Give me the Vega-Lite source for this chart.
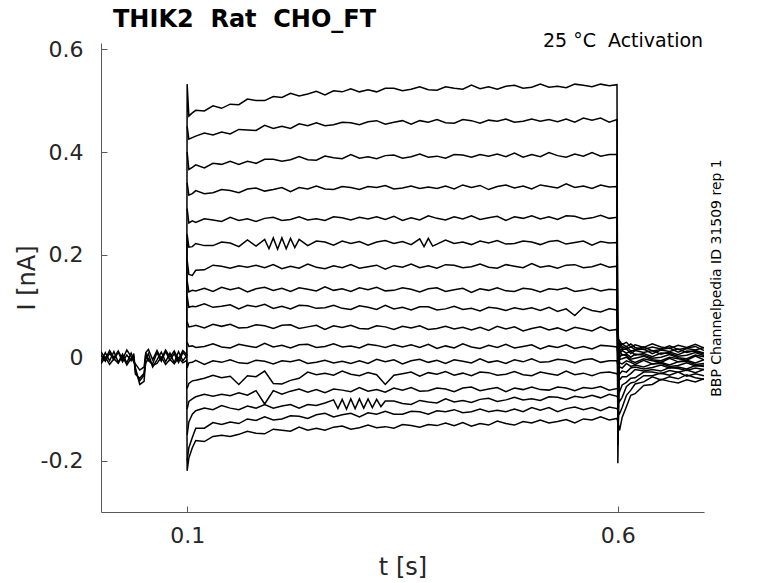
{
  "$schema": "https://vega.github.io/schema/vega-lite/v6.json",
  "width": 603,
  "height": 469,
  "autosize": {"type": "none"},
  "padding": {"left": 101, "top": 43, "right": 74, "bottom": 71},
  "background": "white",
  "config": {"view": {"stroke": null}, "font": "DejaVu Sans"},
  "title": {
    "text": "THIK2\u00a0\u00a0Rat\u00a0\u00a0CHO_FT",
    "anchor": "start",
    "frame": "group",
    "dx": 12,
    "offset": 0,
    "fontSize": 24,
    "fontWeight": "bold",
    "font": "DejaVu Sans",
    "color": "black"
  },
  "data": {"values": [
    {"k":1,"t":0,"v":0.006},{"k":1,"t":0.005,"v":-0.007},{"k":1,"t":0.01,"v":0.009},{"k":1,"t":0.015,"v":-0.004},{"k":1,"t":0.02,"v":0.011},{"k":1,"t":0.025,"v":-0.008},{"k":1,"t":0.03,"v":0.005},{"k":1,"t":0.035,"v":-0.006},{"k":1,"t":0.038,"v":0.008},{"k":1,"t":0.04,"v":-0.028},{"k":1,"t":0.045,"v":-0.045},{"k":1,"t":0.05,"v":-0.034},{"k":1,"t":0.052,"v":0.009},{"k":1,"t":0.055,"v":-0.006},{"k":1,"t":0.06,"v":-0.012},{"k":1,"t":0.065,"v":0.01},{"k":1,"t":0.07,"v":-0.007},{"k":1,"t":0.075,"v":0.012},{"k":1,"t":0.08,"v":-0.005},{"k":1,"t":0.085,"v":0.008},{"k":1,"t":0.09,"v":-0.009},{"k":1,"t":0.095,"v":0.01},{"k":1,"t":0.0995,"v":0.002},
    {"k":1,"t":0.1,"v":0.532},{"k":1,"t":0.102,"v":0.47},{"k":1,"t":0.106,"v":0.476},
    {"k":1,"t":0.11,"v":0.481},{"k":1,"t":0.12,"v":0.48},{"k":1,"t":0.13,"v":0.49},{"k":1,"t":0.14,"v":0.485},{"k":1,"t":0.15,"v":0.493},{"k":1,"t":0.16,"v":0.492},{"k":1,"t":0.17,"v":0.503},{"k":1,"t":0.18,"v":0.5},{"k":1,"t":0.19,"v":0.5},{"k":1,"t":0.2,"v":0.508},
    {"k":1,"t":0.21,"v":0.506},{"k":1,"t":0.22,"v":0.514},{"k":1,"t":0.23,"v":0.509},{"k":1,"t":0.24,"v":0.513},{"k":1,"t":0.25,"v":0.518},{"k":1,"t":0.26,"v":0.511},{"k":1,"t":0.27,"v":0.519},{"k":1,"t":0.28,"v":0.517},{"k":1,"t":0.29,"v":0.523},{"k":1,"t":0.3,"v":0.517},
    {"k":1,"t":0.31,"v":0.521},{"k":1,"t":0.32,"v":0.517},{"k":1,"t":0.33,"v":0.524},{"k":1,"t":0.34,"v":0.524},{"k":1,"t":0.35,"v":0.519},{"k":1,"t":0.36,"v":0.522},{"k":1,"t":0.37,"v":0.527},{"k":1,"t":0.38,"v":0.521},{"k":1,"t":0.39,"v":0.52},{"k":1,"t":0.4,"v":0.527},
    {"k":1,"t":0.41,"v":0.524},{"k":1,"t":0.42,"v":0.522},{"k":1,"t":0.43,"v":0.53},{"k":1,"t":0.44,"v":0.523},{"k":1,"t":0.45,"v":0.527},{"k":1,"t":0.46,"v":0.522},{"k":1,"t":0.47,"v":0.528},{"k":1,"t":0.48,"v":0.53},{"k":1,"t":0.49,"v":0.524},{"k":1,"t":0.5,"v":0.526},
    {"k":1,"t":0.51,"v":0.532},{"k":1,"t":0.52,"v":0.526},{"k":1,"t":0.53,"v":0.528},{"k":1,"t":0.54,"v":0.525},{"k":1,"t":0.55,"v":0.532},{"k":1,"t":0.56,"v":0.53},{"k":1,"t":0.57,"v":0.527},{"k":1,"t":0.58,"v":0.532},{"k":1,"t":0.59,"v":0.529},{"k":1,"t":0.599,"v":0.531},
    {"k":1,"t":0.6,"v":-0.205},{"k":1,"t":0.602,"v":0.033},{"k":1,"t":0.605,"v":0.026},{"k":1,"t":0.61,"v":0.03},{"k":1,"t":0.615,"v":0.021},{"k":1,"t":0.62,"v":0.025},{"k":1,"t":0.63,"v":0.02},{"k":1,"t":0.64,"v":0.027},{"k":1,"t":0.65,"v":0.021},{"k":1,"t":0.66,"v":0.018},{"k":1,"t":0.67,"v":0.024},{"k":1,"t":0.68,"v":0.02},{"k":1,"t":0.69,"v":0.026},{"k":1,"t":0.7,"v":0.019},

    {"k":2,"t":0.1,"v":0.45},{"k":2,"t":0.102,"v":0.425},{"k":2,"t":0.106,"v":0.428},
    {"k":2,"t":0.11,"v":0.431},{"k":2,"t":0.12,"v":0.437},{"k":2,"t":0.13,"v":0.433},{"k":2,"t":0.14,"v":0.439},{"k":2,"t":0.15,"v":0.435},{"k":2,"t":0.16,"v":0.444},{"k":2,"t":0.17,"v":0.443},{"k":2,"t":0.18,"v":0.442},{"k":2,"t":0.19,"v":0.452},{"k":2,"t":0.2,"v":0.446},
    {"k":2,"t":0.21,"v":0.45},{"k":2,"t":0.22,"v":0.446},{"k":2,"t":0.23,"v":0.455},{"k":2,"t":0.24,"v":0.451},{"k":2,"t":0.25,"v":0.457},{"k":2,"t":0.26,"v":0.451},{"k":2,"t":0.27,"v":0.453},{"k":2,"t":0.28,"v":0.458},{"k":2,"t":0.29,"v":0.457},{"k":2,"t":0.3,"v":0.453},
    {"k":2,"t":0.31,"v":0.459},{"k":2,"t":0.32,"v":0.461},{"k":2,"t":0.33,"v":0.454},{"k":2,"t":0.34,"v":0.458},{"k":2,"t":0.35,"v":0.461},{"k":2,"t":0.36,"v":0.454},{"k":2,"t":0.37,"v":0.461},{"k":2,"t":0.38,"v":0.458},{"k":2,"t":0.39,"v":0.463},{"k":2,"t":0.4,"v":0.457},
    {"k":2,"t":0.41,"v":0.456},{"k":2,"t":0.42,"v":0.463},{"k":2,"t":0.43,"v":0.461},{"k":2,"t":0.44,"v":0.456},{"k":2,"t":0.45,"v":0.462},{"k":2,"t":0.46,"v":0.46},{"k":2,"t":0.47,"v":0.464},{"k":2,"t":0.48,"v":0.458},{"k":2,"t":0.49,"v":0.46},{"k":2,"t":0.5,"v":0.464},
    {"k":2,"t":0.51,"v":0.46},{"k":2,"t":0.52,"v":0.463},{"k":2,"t":0.53,"v":0.459},{"k":2,"t":0.54,"v":0.464},{"k":2,"t":0.55,"v":0.458},{"k":2,"t":0.56,"v":0.466},{"k":2,"t":0.57,"v":0.462},{"k":2,"t":0.58,"v":0.466},{"k":2,"t":0.59,"v":0.458},{"k":2,"t":0.599,"v":0.463},
    {"k":2,"t":0.6,"v":-0.17},{"k":2,"t":0.602,"v":0.024},{"k":2,"t":0.605,"v":0.027},{"k":2,"t":0.61,"v":0.021},{"k":2,"t":0.615,"v":0.027},{"k":2,"t":0.62,"v":0.02},{"k":2,"t":0.63,"v":0.016},{"k":2,"t":0.64,"v":0.021},{"k":2,"t":0.65,"v":0.017},{"k":2,"t":0.66,"v":0.023},{"k":2,"t":0.67,"v":0.016},{"k":2,"t":0.68,"v":0.019},{"k":2,"t":0.69,"v":0.022},{"k":2,"t":0.7,"v":0.014},

    {"k":3,"t":0.1,"v":0.4},{"k":3,"t":0.102,"v":0.366},{"k":3,"t":0.106,"v":0.37},
    {"k":3,"t":0.11,"v":0.375},{"k":3,"t":0.12,"v":0.369},{"k":3,"t":0.13,"v":0.378},{"k":3,"t":0.14,"v":0.376},{"k":3,"t":0.15,"v":0.382},{"k":3,"t":0.16,"v":0.376},{"k":3,"t":0.17,"v":0.382},{"k":3,"t":0.18,"v":0.378},{"k":3,"t":0.19,"v":0.386},{"k":3,"t":0.2,"v":0.386},
    {"k":3,"t":0.21,"v":0.382},{"k":3,"t":0.22,"v":0.385},{"k":3,"t":0.23,"v":0.391},{"k":3,"t":0.24,"v":0.385},{"k":3,"t":0.25,"v":0.384},{"k":3,"t":0.26,"v":0.392},{"k":3,"t":0.27,"v":0.389},{"k":3,"t":0.28,"v":0.387},{"k":3,"t":0.29,"v":0.395},{"k":3,"t":0.3,"v":0.388},
    {"k":3,"t":0.31,"v":0.391},{"k":3,"t":0.32,"v":0.387},{"k":3,"t":0.33,"v":0.393},{"k":3,"t":0.34,"v":0.394},{"k":3,"t":0.35,"v":0.388},{"k":3,"t":0.36,"v":0.391},{"k":3,"t":0.37,"v":0.396},{"k":3,"t":0.38,"v":0.39},{"k":3,"t":0.39,"v":0.392},{"k":3,"t":0.4,"v":0.388},
    {"k":3,"t":0.41,"v":0.395},{"k":3,"t":0.42,"v":0.394},{"k":3,"t":0.43,"v":0.39},{"k":3,"t":0.44,"v":0.395},{"k":3,"t":0.45,"v":0.392},{"k":3,"t":0.46,"v":0.396},{"k":3,"t":0.47,"v":0.391},{"k":3,"t":0.48,"v":0.398},{"k":3,"t":0.49,"v":0.39},{"k":3,"t":0.5,"v":0.395},
    {"k":3,"t":0.51,"v":0.391},{"k":3,"t":0.52,"v":0.399},{"k":3,"t":0.53,"v":0.393},{"k":3,"t":0.54,"v":0.39},{"k":3,"t":0.55,"v":0.396},{"k":3,"t":0.56,"v":0.392},{"k":3,"t":0.57,"v":0.399},{"k":3,"t":0.58,"v":0.392},{"k":3,"t":0.59,"v":0.395},{"k":3,"t":0.599,"v":0.395},
    {"k":3,"t":0.6,"v":-0.14},{"k":3,"t":0.602,"v":0.03},{"k":3,"t":0.605,"v":0.022},{"k":3,"t":0.61,"v":0.017},{"k":3,"t":0.615,"v":0.021},{"k":3,"t":0.62,"v":0.016},{"k":3,"t":0.63,"v":0.021},{"k":3,"t":0.64,"v":0.013},{"k":3,"t":0.65,"v":0.016},{"k":3,"t":0.66,"v":0.019},{"k":3,"t":0.67,"v":0.011},{"k":3,"t":0.68,"v":0.018},{"k":3,"t":0.69,"v":0.015},{"k":3,"t":0.7,"v":0.02},

    {"k":4,"t":0.1,"v":0.34},{"k":4,"t":0.102,"v":0.316},{"k":4,"t":0.106,"v":0.319},
    {"k":4,"t":0.11,"v":0.325},{"k":4,"t":0.12,"v":0.319},{"k":4,"t":0.13,"v":0.321},{"k":4,"t":0.14,"v":0.327},{"k":4,"t":0.15,"v":0.325},{"k":4,"t":0.16,"v":0.321},{"k":4,"t":0.17,"v":0.328},{"k":4,"t":0.18,"v":0.33},{"k":4,"t":0.19,"v":0.324},{"k":4,"t":0.2,"v":0.327},
    {"k":4,"t":0.21,"v":0.331},{"k":4,"t":0.22,"v":0.323},{"k":4,"t":0.23,"v":0.331},{"k":4,"t":0.24,"v":0.328},{"k":4,"t":0.25,"v":0.334},{"k":4,"t":0.26,"v":0.328},{"k":4,"t":0.27,"v":0.327},{"k":4,"t":0.28,"v":0.333},{"k":4,"t":0.29,"v":0.331},{"k":4,"t":0.3,"v":0.327},
    {"k":4,"t":0.31,"v":0.333},{"k":4,"t":0.32,"v":0.331},{"k":4,"t":0.33,"v":0.335},{"k":4,"t":0.34,"v":0.328},{"k":4,"t":0.35,"v":0.33},{"k":4,"t":0.36,"v":0.334},{"k":4,"t":0.37,"v":0.329},{"k":4,"t":0.38,"v":0.332},{"k":4,"t":0.39,"v":0.329},{"k":4,"t":0.4,"v":0.334},
    {"k":4,"t":0.41,"v":0.328},{"k":4,"t":0.42,"v":0.336},{"k":4,"t":0.43,"v":0.331},{"k":4,"t":0.44,"v":0.335},{"k":4,"t":0.45,"v":0.327},{"k":4,"t":0.46,"v":0.333},{"k":4,"t":0.47,"v":0.336},{"k":4,"t":0.48,"v":0.33},{"k":4,"t":0.49,"v":0.334},{"k":4,"t":0.5,"v":0.328},
    {"k":4,"t":0.51,"v":0.336},{"k":4,"t":0.52,"v":0.333},{"k":4,"t":0.53,"v":0.33},{"k":4,"t":0.54,"v":0.338},{"k":4,"t":0.55,"v":0.331},{"k":4,"t":0.56,"v":0.334},{"k":4,"t":0.57,"v":0.329},{"k":4,"t":0.58,"v":0.336},{"k":4,"t":0.59,"v":0.332},{"k":4,"t":0.599,"v":0.333},
    {"k":4,"t":0.6,"v":-0.11},{"k":4,"t":0.602,"v":0.024},{"k":4,"t":0.605,"v":0.018},{"k":4,"t":0.61,"v":0.022},{"k":4,"t":0.615,"v":0.013},{"k":4,"t":0.62,"v":0.015},{"k":4,"t":0.63,"v":0.017},{"k":4,"t":0.64,"v":0.008},{"k":4,"t":0.65,"v":0.015},{"k":4,"t":0.66,"v":0.012},{"k":4,"t":0.67,"v":0.017},{"k":4,"t":0.68,"v":0.01},{"k":4,"t":0.69,"v":0.014},{"k":4,"t":0.7,"v":0.009},

    {"k":5,"t":0.1,"v":0.29},{"k":5,"t":0.102,"v":0.262},{"k":5,"t":0.106,"v":0.266},
    {"k":5,"t":0.11,"v":0.263},{"k":5,"t":0.12,"v":0.27},{"k":5,"t":0.13,"v":0.268},{"k":5,"t":0.14,"v":0.265},{"k":5,"t":0.15,"v":0.273},{"k":5,"t":0.16,"v":0.267},{"k":5,"t":0.17,"v":0.27},{"k":5,"t":0.18,"v":0.265},{"k":5,"t":0.19,"v":0.271},{"k":5,"t":0.2,"v":0.273},
    {"k":5,"t":0.21,"v":0.267},{"k":5,"t":0.22,"v":0.269},{"k":5,"t":0.23,"v":0.274},{"k":5,"t":0.24,"v":0.268},{"k":5,"t":0.25,"v":0.27},{"k":5,"t":0.26,"v":0.267},{"k":5,"t":0.27,"v":0.274},{"k":5,"t":0.28,"v":0.272},{"k":5,"t":0.29,"v":0.268},{"k":5,"t":0.3,"v":0.273},
    {"k":5,"t":0.31,"v":0.27},{"k":5,"t":0.32,"v":0.274},{"k":5,"t":0.33,"v":0.269},{"k":5,"t":0.34,"v":0.275},{"k":5,"t":0.35,"v":0.267},{"k":5,"t":0.36,"v":0.272},{"k":5,"t":0.37,"v":0.268},{"k":5,"t":0.38,"v":0.276},{"k":5,"t":0.39,"v":0.271},{"k":5,"t":0.4,"v":0.268},
    {"k":5,"t":0.41,"v":0.274},{"k":5,"t":0.42,"v":0.27},{"k":5,"t":0.43,"v":0.276},{"k":5,"t":0.44,"v":0.269},{"k":5,"t":0.45,"v":0.272},{"k":5,"t":0.46,"v":0.275},{"k":5,"t":0.47,"v":0.267},{"k":5,"t":0.48,"v":0.274},{"k":5,"t":0.49,"v":0.271},{"k":5,"t":0.5,"v":0.276},
    {"k":5,"t":0.51,"v":0.27},{"k":5,"t":0.52,"v":0.274},{"k":5,"t":0.53,"v":0.269},{"k":5,"t":0.54,"v":0.276},{"k":5,"t":0.55,"v":0.275},{"k":5,"t":0.56,"v":0.27},{"k":5,"t":0.57,"v":0.272},{"k":5,"t":0.58,"v":0.277},{"k":5,"t":0.59,"v":0.271},{"k":5,"t":0.599,"v":0.273},
    {"k":5,"t":0.6,"v":-0.08},{"k":5,"t":0.602,"v":0.015},{"k":5,"t":0.605,"v":0.016},{"k":5,"t":0.61,"v":0.017},{"k":5,"t":0.615,"v":0.008},{"k":5,"t":0.62,"v":0.014},{"k":5,"t":0.63,"v":0.01},{"k":5,"t":0.64,"v":0.014},{"k":5,"t":0.65,"v":0.007},{"k":5,"t":0.66,"v":0.011},{"k":5,"t":0.67,"v":0.006},{"k":5,"t":0.68,"v":0.013},{"k":5,"t":0.69,"v":0.012},{"k":5,"t":0.7,"v":0.007},

    {"k":6,"t":0,"v":-0.008},{"k":6,"t":0.005,"v":0.01},{"k":6,"t":0.01,"v":-0.006},{"k":6,"t":0.015,"v":0.012},{"k":6,"t":0.02,"v":-0.009},{"k":6,"t":0.025,"v":0.007},{"k":6,"t":0.03,"v":-0.01},{"k":6,"t":0.035,"v":0.009},{"k":6,"t":0.038,"v":-0.004},{"k":6,"t":0.04,"v":-0.02},{"k":6,"t":0.045,"v":-0.052},{"k":6,"t":0.05,"v":-0.046},{"k":6,"t":0.052,"v":-0.003},{"k":6,"t":0.055,"v":0.008},{"k":6,"t":0.06,"v":-0.018},{"k":6,"t":0.065,"v":-0.004},{"k":6,"t":0.07,"v":0.011},{"k":6,"t":0.075,"v":-0.008},{"k":6,"t":0.08,"v":0.009},{"k":6,"t":0.085,"v":-0.01},{"k":6,"t":0.09,"v":0.012},{"k":6,"t":0.095,"v":-0.006},{"k":6,"t":0.0995,"v":0.004},
    {"k":6,"t":0.1,"v":0.24},{"k":6,"t":0.102,"v":0.215},{"k":6,"t":0.106,"v":0.216},
    {"k":6,"t":0.11,"v":0.222},{"k":6,"t":0.12,"v":0.218},{"k":6,"t":0.13,"v":0.218},{"k":6,"t":0.14,"v":0.225},{"k":6,"t":0.15,"v":0.223},{"k":6,"t":0.16,"v":0.216},{"k":6,"t":0.17,"v":0.229},{"k":6,"t":0.18,"v":0.217},{"k":6,"t":0.19,"v":0.23},{"k":6,"t":0.195,"v":0.212},{"k":6,"t":0.2,"v":0.233},
    {"k":6,"t":0.205,"v":0.211},{"k":6,"t":0.21,"v":0.233},{"k":6,"t":0.215,"v":0.212},{"k":6,"t":0.22,"v":0.232},{"k":6,"t":0.225,"v":0.214},{"k":6,"t":0.23,"v":0.23},{"k":6,"t":0.24,"v":0.218},{"k":6,"t":0.25,"v":0.227},{"k":6,"t":0.26,"v":0.225},{"k":6,"t":0.27,"v":0.219},{"k":6,"t":0.28,"v":0.227},{"k":6,"t":0.29,"v":0.222},{"k":6,"t":0.3,"v":0.226},
    {"k":6,"t":0.31,"v":0.219},{"k":6,"t":0.32,"v":0.225},{"k":6,"t":0.33,"v":0.228},{"k":6,"t":0.34,"v":0.222},{"k":6,"t":0.35,"v":0.226},{"k":6,"t":0.36,"v":0.22},{"k":6,"t":0.37,"v":0.231},{"k":6,"t":0.375,"v":0.216},{"k":6,"t":0.38,"v":0.232},{"k":6,"t":0.385,"v":0.217},{"k":6,"t":0.39,"v":0.221},{"k":6,"t":0.4,"v":0.229},
    {"k":6,"t":0.41,"v":0.222},{"k":6,"t":0.42,"v":0.225},{"k":6,"t":0.43,"v":0.22},{"k":6,"t":0.44,"v":0.227},{"k":6,"t":0.45,"v":0.223},{"k":6,"t":0.46,"v":0.228},{"k":6,"t":0.47,"v":0.221},{"k":6,"t":0.48,"v":0.222},{"k":6,"t":0.49,"v":0.227},{"k":6,"t":0.5,"v":0.225},
    {"k":6,"t":0.51,"v":0.22},{"k":6,"t":0.52,"v":0.226},{"k":6,"t":0.53,"v":0.228},{"k":6,"t":0.54,"v":0.221},{"k":6,"t":0.55,"v":0.224},{"k":6,"t":0.56,"v":0.227},{"k":6,"t":0.57,"v":0.219},{"k":6,"t":0.58,"v":0.226},{"k":6,"t":0.59,"v":0.223},{"k":6,"t":0.599,"v":0.224},
    {"k":6,"t":0.6,"v":-0.05},{"k":6,"t":0.602,"v":0.009},{"k":6,"t":0.605,"v":0.014},{"k":6,"t":0.61,"v":0.009},{"k":6,"t":0.615,"v":0.013},{"k":6,"t":0.62,"v":0.005},{"k":6,"t":0.63,"v":0.008},{"k":6,"t":0.64,"v":0.002},{"k":6,"t":0.65,"v":0.009},{"k":6,"t":0.66,"v":0.008},{"k":6,"t":0.67,"v":0.003},{"k":6,"t":0.68,"v":0.005},{"k":6,"t":0.69,"v":0.01},{"k":6,"t":0.7,"v":0.004},

    {"k":7,"t":0.1,"v":0.19},{"k":7,"t":0.102,"v":0.162},{"k":7,"t":0.106,"v":0.16},
    {"k":7,"t":0.11,"v":0.17},{"k":7,"t":0.12,"v":0.171},{"k":7,"t":0.13,"v":0.18},{"k":7,"t":0.14,"v":0.178},{"k":7,"t":0.15,"v":0.174},{"k":7,"t":0.16,"v":0.179},{"k":7,"t":0.17,"v":0.176},{"k":7,"t":0.18,"v":0.18},{"k":7,"t":0.19,"v":0.175},{"k":7,"t":0.2,"v":0.181},
    {"k":7,"t":0.21,"v":0.173},{"k":7,"t":0.22,"v":0.178},{"k":7,"t":0.23,"v":0.174},{"k":7,"t":0.24,"v":0.182},{"k":7,"t":0.25,"v":0.176},{"k":7,"t":0.26,"v":0.173},{"k":7,"t":0.27,"v":0.179},{"k":7,"t":0.28,"v":0.175},{"k":7,"t":0.29,"v":0.181},{"k":7,"t":0.3,"v":0.174},
    {"k":7,"t":0.31,"v":0.177},{"k":7,"t":0.32,"v":0.18},{"k":7,"t":0.33,"v":0.172},{"k":7,"t":0.34,"v":0.179},{"k":7,"t":0.35,"v":0.176},{"k":7,"t":0.36,"v":0.182},{"k":7,"t":0.37,"v":0.175},{"k":7,"t":0.38,"v":0.179},{"k":7,"t":0.39,"v":0.174},{"k":7,"t":0.4,"v":0.181},
    {"k":7,"t":0.41,"v":0.18},{"k":7,"t":0.42,"v":0.175},{"k":7,"t":0.43,"v":0.177},{"k":7,"t":0.44,"v":0.182},{"k":7,"t":0.45,"v":0.176},{"k":7,"t":0.46,"v":0.174},{"k":7,"t":0.47,"v":0.181},{"k":7,"t":0.48,"v":0.178},{"k":7,"t":0.49,"v":0.175},{"k":7,"t":0.5,"v":0.183},
    {"k":7,"t":0.51,"v":0.176},{"k":7,"t":0.52,"v":0.179},{"k":7,"t":0.53,"v":0.174},{"k":7,"t":0.54,"v":0.18},{"k":7,"t":0.55,"v":0.181},{"k":7,"t":0.56,"v":0.175},{"k":7,"t":0.57,"v":0.177},{"k":7,"t":0.58,"v":0.182},{"k":7,"t":0.59,"v":0.176},{"k":7,"t":0.599,"v":0.178},
    {"k":7,"t":0.6,"v":-0.03},{"k":7,"t":0.602,"v":0.014},{"k":7,"t":0.605,"v":0.005},{"k":7,"t":0.61,"v":0.007},{"k":7,"t":0.615,"v":0.001},{"k":7,"t":0.62,"v":0.007},{"k":7,"t":0.63,"v":0.005},{"k":7,"t":0.64,"v":-0.001},{"k":7,"t":0.65,"v":0.001},{"k":7,"t":0.66,"v":0.006},{"k":7,"t":0.67,"v":0},{"k":7,"t":0.68,"v":-0.002},{"k":7,"t":0.69,"v":0.005},{"k":7,"t":0.7,"v":0.002},

    {"k":8,"t":0.1,"v":0.15},{"k":8,"t":0.102,"v":0.128},{"k":8,"t":0.106,"v":0.131},
    {"k":8,"t":0.11,"v":0.13},{"k":8,"t":0.12,"v":0.135},{"k":8,"t":0.13,"v":0.129},{"k":8,"t":0.14,"v":0.137},{"k":8,"t":0.15,"v":0.132},{"k":8,"t":0.16,"v":0.136},{"k":8,"t":0.17,"v":0.128},{"k":8,"t":0.18,"v":0.134},{"k":8,"t":0.19,"v":0.137},{"k":8,"t":0.2,"v":0.131},
    {"k":8,"t":0.21,"v":0.135},{"k":8,"t":0.22,"v":0.129},{"k":8,"t":0.23,"v":0.136},{"k":8,"t":0.24,"v":0.133},{"k":8,"t":0.25,"v":0.13},{"k":8,"t":0.26,"v":0.138},{"k":8,"t":0.27,"v":0.131},{"k":8,"t":0.28,"v":0.134},{"k":8,"t":0.29,"v":0.129},{"k":8,"t":0.3,"v":0.136},
    {"k":8,"t":0.31,"v":0.132},{"k":8,"t":0.32,"v":0.137},{"k":8,"t":0.33,"v":0.13},{"k":8,"t":0.34,"v":0.131},{"k":8,"t":0.35,"v":0.136},{"k":8,"t":0.36,"v":0.133},{"k":8,"t":0.37,"v":0.128},{"k":8,"t":0.38,"v":0.134},{"k":8,"t":0.39,"v":0.136},{"k":8,"t":0.4,"v":0.129},
    {"k":8,"t":0.41,"v":0.132},{"k":8,"t":0.42,"v":0.135},{"k":8,"t":0.43,"v":0.127},{"k":8,"t":0.44,"v":0.134},{"k":8,"t":0.45,"v":0.131},{"k":8,"t":0.46,"v":0.136},{"k":8,"t":0.47,"v":0.13},{"k":8,"t":0.48,"v":0.129},{"k":8,"t":0.49,"v":0.135},{"k":8,"t":0.5,"v":0.133},
    {"k":8,"t":0.51,"v":0.128},{"k":8,"t":0.52,"v":0.134},{"k":8,"t":0.53,"v":0.132},{"k":8,"t":0.54,"v":0.136},{"k":8,"t":0.55,"v":0.129},{"k":8,"t":0.56,"v":0.131},{"k":8,"t":0.57,"v":0.135},{"k":8,"t":0.58,"v":0.13},{"k":8,"t":0.59,"v":0.133},{"k":8,"t":0.599,"v":0.132},
    {"k":8,"t":0.6,"v":-0.01},{"k":8,"t":0.602,"v":0.001},{"k":8,"t":0.605,"v":0.006},{"k":8,"t":0.61,"v":0.004},{"k":8,"t":0.615,"v":-0.003},{"k":8,"t":0.62,"v":-0.001},{"k":8,"t":0.63,"v":0.003},{"k":8,"t":0.64,"v":-0.004},{"k":8,"t":0.65,"v":-0.006},{"k":8,"t":0.66,"v":0.001},{"k":8,"t":0.67,"v":-0.002},{"k":8,"t":0.68,"v":-0.005},{"k":8,"t":0.69,"v":0.003},{"k":8,"t":0.7,"v":-0.004},

    {"k":9,"t":0.1,"v":0.12},{"k":9,"t":0.102,"v":0.098},{"k":9,"t":0.106,"v":0.1},
    {"k":9,"t":0.11,"v":0.099},{"k":9,"t":0.12,"v":0.105},{"k":9,"t":0.13,"v":0.098},{"k":9,"t":0.14,"v":0.1},{"k":9,"t":0.15,"v":0.103},{"k":9,"t":0.16,"v":0.095},{"k":9,"t":0.17,"v":0.102},{"k":9,"t":0.18,"v":0.099},{"k":9,"t":0.19,"v":0.104},{"k":9,"t":0.2,"v":0.096},
    {"k":9,"t":0.21,"v":0.1},{"k":9,"t":0.22,"v":0.095},{"k":9,"t":0.23,"v":0.102},{"k":9,"t":0.24,"v":0.101},{"k":9,"t":0.25,"v":0.096},{"k":9,"t":0.26,"v":0.097},{"k":9,"t":0.27,"v":0.102},{"k":9,"t":0.28,"v":0.096},{"k":9,"t":0.29,"v":0.094},{"k":9,"t":0.3,"v":0.101},
    {"k":9,"t":0.31,"v":0.098},{"k":9,"t":0.32,"v":0.094},{"k":9,"t":0.33,"v":0.102},{"k":9,"t":0.34,"v":0.095},{"k":9,"t":0.35,"v":0.098},{"k":9,"t":0.36,"v":0.093},{"k":9,"t":0.37,"v":0.099},{"k":9,"t":0.38,"v":0.099},{"k":9,"t":0.39,"v":0.093},{"k":9,"t":0.4,"v":0.095},
    {"k":9,"t":0.41,"v":0.1},{"k":9,"t":0.42,"v":0.094},{"k":9,"t":0.43,"v":0.096},{"k":9,"t":0.44,"v":0.091},{"k":9,"t":0.45,"v":0.098},{"k":9,"t":0.46,"v":0.096},{"k":9,"t":0.47,"v":0.092},{"k":9,"t":0.48,"v":0.097},{"k":9,"t":0.49,"v":0.094},{"k":9,"t":0.5,"v":0.097},
    {"k":9,"t":0.51,"v":0.092},{"k":9,"t":0.52,"v":0.098},{"k":9,"t":0.53,"v":0.09},{"k":9,"t":0.54,"v":0.095},{"k":9,"t":0.55,"v":0.082},{"k":9,"t":0.56,"v":0.098},{"k":9,"t":0.57,"v":0.092},{"k":9,"t":0.58,"v":0.089},{"k":9,"t":0.59,"v":0.095},{"k":9,"t":0.599,"v":0.093},
    {"k":9,"t":0.602,"v":-0.003},{"k":9,"t":0.605,"v":-0.002},{"k":9,"t":0.61,"v":0.001},{"k":9,"t":0.615,"v":-0.006},{"k":9,"t":0.62,"v":-0.009},{"k":9,"t":0.63,"v":-0.002},{"k":9,"t":0.64,"v":-0.006},{"k":9,"t":0.65,"v":-0.009},{"k":9,"t":0.66,"v":-0.001},{"k":9,"t":0.67,"v":-0.008},{"k":9,"t":0.68,"v":-0.005},{"k":9,"t":0.69,"v":-0.01},{"k":9,"t":0.7,"v":-0.004},

    {"k":10,"t":0.1,"v":0.07},{"k":10,"t":0.102,"v":0.06},{"k":10,"t":0.106,"v":0.061},
    {"k":10,"t":0.11,"v":0.063},{"k":10,"t":0.12,"v":0.058},{"k":10,"t":0.13,"v":0.065},{"k":10,"t":0.14,"v":0.061},{"k":10,"t":0.15,"v":0.065},{"k":10,"t":0.16,"v":0.058},{"k":10,"t":0.17,"v":0.059},{"k":10,"t":0.18,"v":0.064},{"k":10,"t":0.19,"v":0.062},{"k":10,"t":0.2,"v":0.057},
    {"k":10,"t":0.21,"v":0.063},{"k":10,"t":0.22,"v":0.064},{"k":10,"t":0.23,"v":0.057},{"k":10,"t":0.24,"v":0.06},{"k":10,"t":0.25,"v":0.063},{"k":10,"t":0.26,"v":0.055},{"k":10,"t":0.27,"v":0.062},{"k":10,"t":0.28,"v":0.059},{"k":10,"t":0.29,"v":0.063},{"k":10,"t":0.3,"v":0.057},
    {"k":10,"t":0.31,"v":0.056},{"k":10,"t":0.32,"v":0.062},{"k":10,"t":0.33,"v":0.06},{"k":10,"t":0.34,"v":0.055},{"k":10,"t":0.35,"v":0.061},{"k":10,"t":0.36,"v":0.058},{"k":10,"t":0.37,"v":0.062},{"k":10,"t":0.38,"v":0.055},{"k":10,"t":0.39,"v":0.057},{"k":10,"t":0.4,"v":0.061},
    {"k":10,"t":0.41,"v":0.056},{"k":10,"t":0.42,"v":0.059},{"k":10,"t":0.43,"v":0.054},{"k":10,"t":0.44,"v":0.059},{"k":10,"t":0.45,"v":0.053},{"k":10,"t":0.46,"v":0.061},{"k":10,"t":0.47,"v":0.056},{"k":10,"t":0.48,"v":0.06},{"k":10,"t":0.49,"v":0.052},{"k":10,"t":0.5,"v":0.057},
    {"k":10,"t":0.51,"v":0.06},{"k":10,"t":0.52,"v":0.054},{"k":10,"t":0.53,"v":0.058},{"k":10,"t":0.54,"v":0.052},{"k":10,"t":0.55,"v":0.059},{"k":10,"t":0.56,"v":0.056},{"k":10,"t":0.57,"v":0.052},{"k":10,"t":0.58,"v":0.06},{"k":10,"t":0.59,"v":0.053},{"k":10,"t":0.599,"v":0.055},
    {"k":10,"t":0.602,"v":-0.01},{"k":10,"t":0.605,"v":-0.012},{"k":10,"t":0.61,"v":-0.006},{"k":10,"t":0.615,"v":-0.009},{"k":10,"t":0.62,"v":-0.013},{"k":10,"t":0.63,"v":-0.005},{"k":10,"t":0.64,"v":-0.012},{"k":10,"t":0.65,"v":-0.009},{"k":10,"t":0.66,"v":-0.014},{"k":10,"t":0.67,"v":-0.008},{"k":10,"t":0.68,"v":-0.007},{"k":10,"t":0.69,"v":-0.013},{"k":10,"t":0.7,"v":-0.011},

    {"k":11,"t":0.1,"v":0.03},{"k":11,"t":0.102,"v":0.022},{"k":11,"t":0.106,"v":0.023},
    {"k":11,"t":0.11,"v":0.02},{"k":11,"t":0.12,"v":0.022},{"k":11,"t":0.13,"v":0.027},{"k":11,"t":0.14,"v":0.021},{"k":11,"t":0.15,"v":0.019},{"k":11,"t":0.16,"v":0.026},{"k":11,"t":0.17,"v":0.023},{"k":11,"t":0.18,"v":0.02},{"k":11,"t":0.19,"v":0.028},{"k":11,"t":0.2,"v":0.021},
    {"k":11,"t":0.21,"v":0.024},{"k":11,"t":0.22,"v":0.019},{"k":11,"t":0.23,"v":0.025},{"k":11,"t":0.24,"v":0.026},{"k":11,"t":0.25,"v":0.02},{"k":11,"t":0.26,"v":0.022},{"k":11,"t":0.27,"v":0.027},{"k":11,"t":0.28,"v":0.021},{"k":11,"t":0.29,"v":0.023},{"k":11,"t":0.3,"v":0.019},
    {"k":11,"t":0.31,"v":0.026},{"k":11,"t":0.32,"v":0.024},{"k":11,"t":0.33,"v":0.02},{"k":11,"t":0.34,"v":0.025},{"k":11,"t":0.35,"v":0.021},{"k":11,"t":0.36,"v":0.025},{"k":11,"t":0.37,"v":0.02},{"k":11,"t":0.38,"v":0.026},{"k":11,"t":0.39,"v":0.018},{"k":11,"t":0.4,"v":0.023},
    {"k":11,"t":0.41,"v":0.019},{"k":11,"t":0.42,"v":0.027},{"k":11,"t":0.43,"v":0.021},{"k":11,"t":0.44,"v":0.018},{"k":11,"t":0.45,"v":0.024},{"k":11,"t":0.46,"v":0.02},{"k":11,"t":0.47,"v":0.026},{"k":11,"t":0.48,"v":0.019},{"k":11,"t":0.49,"v":0.022},{"k":11,"t":0.5,"v":0.025},
    {"k":11,"t":0.51,"v":0.017},{"k":11,"t":0.52,"v":0.023},{"k":11,"t":0.53,"v":0.02},{"k":11,"t":0.54,"v":0.025},{"k":11,"t":0.55,"v":0.018},{"k":11,"t":0.56,"v":0.022},{"k":11,"t":0.57,"v":0.017},{"k":11,"t":0.58,"v":0.024},{"k":11,"t":0.59,"v":0.023},{"k":11,"t":0.599,"v":0.021},
    {"k":11,"t":0.602,"v":-0.018},{"k":11,"t":0.605,"v":-0.02},{"k":11,"t":0.61,"v":-0.011},{"k":11,"t":0.615,"v":-0.017},{"k":11,"t":0.62,"v":-0.014},{"k":11,"t":0.63,"v":-0.018},{"k":11,"t":0.64,"v":-0.012},{"k":11,"t":0.65,"v":-0.011},{"k":11,"t":0.66,"v":-0.017},{"k":11,"t":0.67,"v":-0.015},{"k":11,"t":0.68,"v":-0.01},{"k":11,"t":0.69,"v":-0.016},{"k":11,"t":0.7,"v":-0.014},

    {"k":12,"t":0,"v":0.012},{"k":12,"t":0.005,"v":-0.002},{"k":12,"t":0.01,"v":0.014},{"k":12,"t":0.015,"v":0},{"k":12,"t":0.02,"v":0.013},{"k":12,"t":0.025,"v":-0.003},{"k":12,"t":0.03,"v":0.015},{"k":12,"t":0.035,"v":0.002},{"k":12,"t":0.038,"v":-0.008},{"k":12,"t":0.04,"v":-0.012},{"k":12,"t":0.045,"v":-0.024},{"k":12,"t":0.05,"v":-0.018},{"k":12,"t":0.052,"v":0.01},{"k":12,"t":0.055,"v":0.016},{"k":12,"t":0.06,"v":-0.004},{"k":12,"t":0.065,"v":0.014},{"k":12,"t":0.07,"v":-0.002},{"k":12,"t":0.075,"v":0.015},{"k":12,"t":0.08,"v":0.001},{"k":12,"t":0.085,"v":0.013},{"k":12,"t":0.09,"v":-0.003},{"k":12,"t":0.095,"v":0.014},{"k":12,"t":0.0995,"v":0.006},
    {"k":12,"t":0.1,"v":-0.02},{"k":12,"t":0.102,"v":-0.01},{"k":12,"t":0.106,"v":-0.009},
    {"k":12,"t":0.11,"v":-0.005},{"k":12,"t":0.12,"v":-0.013},{"k":12,"t":0.13,"v":-0.006},{"k":12,"t":0.14,"v":-0.009},{"k":12,"t":0.15,"v":-0.004},{"k":12,"t":0.16,"v":-0.01},{"k":12,"t":0.17,"v":-0.011},{"k":12,"t":0.18,"v":-0.005},{"k":12,"t":0.19,"v":-0.007},{"k":12,"t":0.2,"v":-0.012},
    {"k":12,"t":0.21,"v":-0.006},{"k":12,"t":0.22,"v":-0.008},{"k":12,"t":0.23,"v":-0.004},{"k":12,"t":0.24,"v":-0.011},{"k":12,"t":0.25,"v":-0.009},{"k":12,"t":0.26,"v":-0.005},{"k":12,"t":0.27,"v":-0.01},{"k":12,"t":0.28,"v":-0.007},{"k":12,"t":0.29,"v":-0.011},{"k":12,"t":0.3,"v":-0.006},
    {"k":12,"t":0.31,"v":-0.011},{"k":12,"t":0.32,"v":-0.003},{"k":12,"t":0.33,"v":-0.008},{"k":12,"t":0.34,"v":-0.004},{"k":12,"t":0.35,"v":-0.012},{"k":12,"t":0.36,"v":-0.006},{"k":12,"t":0.37,"v":-0.003},{"k":12,"t":0.38,"v":-0.009},{"k":12,"t":0.39,"v":-0.005},{"k":12,"t":0.4,"v":-0.011},
    {"k":12,"t":0.41,"v":-0.004},{"k":12,"t":0.42,"v":-0.007},{"k":12,"t":0.43,"v":-0.01},{"k":12,"t":0.44,"v":-0.002},{"k":12,"t":0.45,"v":-0.009},{"k":12,"t":0.46,"v":-0.006},{"k":12,"t":0.47,"v":-0.011},{"k":12,"t":0.48,"v":-0.004},{"k":12,"t":0.49,"v":-0.008},{"k":12,"t":0.5,"v":-0.002},
    {"k":12,"t":0.51,"v":-0.009},{"k":12,"t":0.52,"v":-0.008},{"k":12,"t":0.53,"v":-0.003},{"k":12,"t":0.54,"v":-0.005},{"k":12,"t":0.55,"v":-0.01},{"k":12,"t":0.56,"v":-0.004},{"k":12,"t":0.57,"v":-0.002},{"k":12,"t":0.58,"v":-0.009},{"k":12,"t":0.59,"v":-0.006},{"k":12,"t":0.599,"v":-0.006},
    {"k":12,"t":0.602,"v":-0.032},{"k":12,"t":0.605,"v":-0.026},{"k":12,"t":0.61,"v":-0.028},{"k":12,"t":0.615,"v":-0.02},{"k":12,"t":0.62,"v":-0.018},{"k":12,"t":0.63,"v":-0.022},{"k":12,"t":0.64,"v":-0.019},{"k":12,"t":0.65,"v":-0.014},{"k":12,"t":0.66,"v":-0.02},{"k":12,"t":0.67,"v":-0.018},{"k":12,"t":0.68,"v":-0.022},{"k":12,"t":0.69,"v":-0.015},{"k":12,"t":0.7,"v":-0.017},

    {"k":13,"t":0.1,"v":-0.06},{"k":13,"t":0.102,"v":-0.05},{"k":13,"t":0.106,"v":-0.045},
    {"k":13,"t":0.11,"v":-0.044},{"k":13,"t":0.12,"v":-0.04},{"k":13,"t":0.13,"v":-0.034},{"k":13,"t":0.14,"v":-0.039},{"k":13,"t":0.15,"v":-0.036},{"k":13,"t":0.16,"v":-0.052},{"k":13,"t":0.17,"v":-0.035},{"k":13,"t":0.18,"v":-0.037},{"k":13,"t":0.19,"v":-0.026},{"k":13,"t":0.2,"v":-0.05},
    {"k":13,"t":0.21,"v":-0.051},{"k":13,"t":0.22,"v":-0.044},{"k":13,"t":0.23,"v":-0.04},{"k":13,"t":0.24,"v":-0.028},{"k":13,"t":0.25,"v":-0.033},{"k":13,"t":0.26,"v":-0.03},{"k":13,"t":0.27,"v":-0.034},{"k":13,"t":0.28,"v":-0.026},{"k":13,"t":0.29,"v":-0.032},{"k":13,"t":0.3,"v":-0.035},
    {"k":13,"t":0.31,"v":-0.029},{"k":13,"t":0.32,"v":-0.033},{"k":13,"t":0.33,"v":-0.052},{"k":13,"t":0.34,"v":-0.034},{"k":13,"t":0.35,"v":-0.031},{"k":13,"t":0.36,"v":-0.028},{"k":13,"t":0.37,"v":-0.036},{"k":13,"t":0.38,"v":-0.029},{"k":13,"t":0.39,"v":-0.032},{"k":13,"t":0.4,"v":-0.027},
    {"k":13,"t":0.41,"v":-0.034},{"k":13,"t":0.42,"v":-0.03},{"k":13,"t":0.43,"v":-0.035},{"k":13,"t":0.44,"v":-0.028},{"k":13,"t":0.45,"v":-0.029},{"k":13,"t":0.46,"v":-0.034},{"k":13,"t":0.47,"v":-0.032},{"k":13,"t":0.48,"v":-0.027},{"k":13,"t":0.49,"v":-0.033},{"k":13,"t":0.5,"v":-0.035},
    {"k":13,"t":0.51,"v":-0.028},{"k":13,"t":0.52,"v":-0.031},{"k":13,"t":0.53,"v":-0.034},{"k":13,"t":0.54,"v":-0.026},{"k":13,"t":0.55,"v":-0.033},{"k":13,"t":0.56,"v":-0.03},{"k":13,"t":0.57,"v":-0.035},{"k":13,"t":0.58,"v":-0.029},{"k":13,"t":0.59,"v":-0.028},{"k":13,"t":0.599,"v":-0.031},
    {"k":13,"t":0.602,"v":-0.043},{"k":13,"t":0.605,"v":-0.037},{"k":13,"t":0.61,"v":-0.037},{"k":13,"t":0.615,"v":-0.031},{"k":13,"t":0.62,"v":-0.023},{"k":13,"t":0.63,"v":-0.026},{"k":13,"t":0.64,"v":-0.023},{"k":13,"t":0.65,"v":-0.026},{"k":13,"t":0.66,"v":-0.019},{"k":13,"t":0.67,"v":-0.021},{"k":13,"t":0.68,"v":-0.025},{"k":13,"t":0.69,"v":-0.02},{"k":13,"t":0.7,"v":-0.023},

    {"k":14,"t":0.1,"v":-0.1},{"k":14,"t":0.102,"v":-0.085},{"k":14,"t":0.106,"v":-0.08},
    {"k":14,"t":0.11,"v":-0.076},{"k":14,"t":0.12,"v":-0.071},{"k":14,"t":0.13,"v":-0.075},{"k":14,"t":0.14,"v":-0.071},{"k":14,"t":0.15,"v":-0.074},{"k":14,"t":0.16,"v":-0.068},{"k":14,"t":0.17,"v":-0.073},{"k":14,"t":0.18,"v":-0.064},{"k":14,"t":0.19,"v":-0.09},{"k":14,"t":0.2,"v":-0.064},
    {"k":14,"t":0.21,"v":-0.071},{"k":14,"t":0.22,"v":-0.065},{"k":14,"t":0.23,"v":-0.061},{"k":14,"t":0.24,"v":-0.067},{"k":14,"t":0.25,"v":-0.062},{"k":14,"t":0.26,"v":-0.068},{"k":14,"t":0.27,"v":-0.061},{"k":14,"t":0.28,"v":-0.063},{"k":14,"t":0.29,"v":-0.066},{"k":14,"t":0.3,"v":-0.058},
    {"k":14,"t":0.31,"v":-0.065},{"k":14,"t":0.32,"v":-0.062},{"k":14,"t":0.33,"v":-0.067},{"k":14,"t":0.34,"v":-0.059},{"k":14,"t":0.35,"v":-0.063},{"k":14,"t":0.36,"v":-0.058},{"k":14,"t":0.37,"v":-0.065},{"k":14,"t":0.38,"v":-0.064},{"k":14,"t":0.39,"v":-0.059},{"k":14,"t":0.4,"v":-0.061},
    {"k":14,"t":0.41,"v":-0.066},{"k":14,"t":0.42,"v":-0.059},{"k":14,"t":0.43,"v":-0.057},{"k":14,"t":0.44,"v":-0.064},{"k":14,"t":0.45,"v":-0.061},{"k":14,"t":0.46,"v":-0.058},{"k":14,"t":0.47,"v":-0.066},{"k":14,"t":0.48,"v":-0.059},{"k":14,"t":0.49,"v":-0.062},{"k":14,"t":0.5,"v":-0.057},
    {"k":14,"t":0.51,"v":-0.062},{"k":14,"t":0.52,"v":-0.063},{"k":14,"t":0.53,"v":-0.057},{"k":14,"t":0.54,"v":-0.059},{"k":14,"t":0.55,"v":-0.064},{"k":14,"t":0.56,"v":-0.058},{"k":14,"t":0.57,"v":-0.06},{"k":14,"t":0.58,"v":-0.056},{"k":14,"t":0.59,"v":-0.063},{"k":14,"t":0.599,"v":-0.06},
    {"k":14,"t":0.602,"v":-0.066},{"k":14,"t":0.605,"v":-0.053},{"k":14,"t":0.61,"v":-0.048},{"k":14,"t":0.615,"v":-0.04},{"k":14,"t":0.62,"v":-0.039},{"k":14,"t":0.63,"v":-0.028},{"k":14,"t":0.64,"v":-0.028},{"k":14,"t":0.65,"v":-0.031},{"k":14,"t":0.66,"v":-0.025},{"k":14,"t":0.67,"v":-0.028},{"k":14,"t":0.68,"v":-0.024},{"k":14,"t":0.69,"v":-0.029},{"k":14,"t":0.7,"v":-0.023},

    {"k":15,"t":0.1,"v":-0.15},{"k":15,"t":0.102,"v":-0.125},{"k":15,"t":0.106,"v":-0.11},
    {"k":15,"t":0.11,"v":-0.103},{"k":15,"t":0.12,"v":-0.098},{"k":15,"t":0.13,"v":-0.101},{"k":15,"t":0.14,"v":-0.093},{"k":15,"t":0.15,"v":-0.098},{"k":15,"t":0.16,"v":-0.101},{"k":15,"t":0.17,"v":-0.094},{"k":15,"t":0.18,"v":-0.098},{"k":15,"t":0.19,"v":-0.091},{"k":15,"t":0.2,"v":-0.098},
    {"k":15,"t":0.21,"v":-0.094},{"k":15,"t":0.22,"v":-0.091},{"k":15,"t":0.23,"v":-0.098},{"k":15,"t":0.24,"v":-0.091},{"k":15,"t":0.25,"v":-0.093},{"k":15,"t":0.26,"v":-0.088},
    {"k":15,"t":0.27,"v":-0.082},{"k":15,"t":0.275,"v":-0.099},{"k":15,"t":0.28,"v":-0.081},{"k":15,"t":0.285,"v":-0.1},{"k":15,"t":0.29,"v":-0.08},{"k":15,"t":0.295,"v":-0.099},{"k":15,"t":0.3,"v":-0.08},{"k":15,"t":0.305,"v":-0.098},{"k":15,"t":0.31,"v":-0.08},{"k":15,"t":0.315,"v":-0.097},{"k":15,"t":0.32,"v":-0.081},{"k":15,"t":0.325,"v":-0.095},{"k":15,"t":0.33,"v":-0.084},
    {"k":15,"t":0.34,"v":-0.084},{"k":15,"t":0.35,"v":-0.089},{"k":15,"t":0.36,"v":-0.091},{"k":15,"t":0.37,"v":-0.083},{"k":15,"t":0.38,"v":-0.086},{"k":15,"t":0.39,"v":-0.088},{"k":15,"t":0.4,"v":-0.08},
    {"k":15,"t":0.41,"v":-0.086},{"k":15,"t":0.42,"v":-0.083},{"k":15,"t":0.43,"v":-0.087},{"k":15,"t":0.44,"v":-0.081},{"k":15,"t":0.45,"v":-0.079},{"k":15,"t":0.46,"v":-0.085},{"k":15,"t":0.47,"v":-0.082},{"k":15,"t":0.48,"v":-0.077},{"k":15,"t":0.49,"v":-0.082},{"k":15,"t":0.5,"v":-0.08},
    {"k":15,"t":0.51,"v":-0.083},{"k":15,"t":0.52,"v":-0.076},{"k":15,"t":0.53,"v":-0.077},{"k":15,"t":0.54,"v":-0.081},{"k":15,"t":0.55,"v":-0.075},{"k":15,"t":0.56,"v":-0.078},{"k":15,"t":0.57,"v":-0.073},{"k":15,"t":0.58,"v":-0.078},{"k":15,"t":0.59,"v":-0.071},{"k":15,"t":0.599,"v":-0.075},
    {"k":15,"t":0.602,"v":-0.085},{"k":15,"t":0.605,"v":-0.077},{"k":15,"t":0.61,"v":-0.056},{"k":15,"t":0.615,"v":-0.049},{"k":15,"t":0.62,"v":-0.047},{"k":15,"t":0.63,"v":-0.035},{"k":15,"t":0.64,"v":-0.035},{"k":15,"t":0.65,"v":-0.03},{"k":15,"t":0.66,"v":-0.034},{"k":15,"t":0.67,"v":-0.028},{"k":15,"t":0.68,"v":-0.036},{"k":15,"t":0.69,"v":-0.031},{"k":15,"t":0.7,"v":-0.035},

    {"k":16,"t":0.1,"v":-0.2},{"k":16,"t":0.102,"v":-0.175},{"k":16,"t":0.106,"v":-0.155},
    {"k":16,"t":0.11,"v":-0.137},{"k":16,"t":0.12,"v":-0.137},{"k":16,"t":0.13,"v":-0.126},{"k":16,"t":0.14,"v":-0.13},{"k":16,"t":0.15,"v":-0.125},{"k":16,"t":0.16,"v":-0.128},{"k":16,"t":0.17,"v":-0.119},{"k":16,"t":0.18,"v":-0.122},{"k":16,"t":0.19,"v":-0.115},{"k":16,"t":0.2,"v":-0.121},
    {"k":16,"t":0.21,"v":-0.119},{"k":16,"t":0.22,"v":-0.113},{"k":16,"t":0.23,"v":-0.114},{"k":16,"t":0.24,"v":-0.118},{"k":16,"t":0.25,"v":-0.111},{"k":16,"t":0.26,"v":-0.108},{"k":16,"t":0.27,"v":-0.115},{"k":16,"t":0.28,"v":-0.111},{"k":16,"t":0.29,"v":-0.108},{"k":16,"t":0.3,"v":-0.115},
    {"k":16,"t":0.31,"v":-0.107},{"k":16,"t":0.32,"v":-0.11},{"k":16,"t":0.33,"v":-0.104},{"k":16,"t":0.34,"v":-0.11},{"k":16,"t":0.35,"v":-0.11},{"k":16,"t":0.36,"v":-0.104},{"k":16,"t":0.37,"v":-0.105},{"k":16,"t":0.38,"v":-0.11},{"k":16,"t":0.39,"v":-0.103},{"k":16,"t":0.4,"v":-0.105},
    {"k":16,"t":0.41,"v":-0.101},{"k":16,"t":0.42,"v":-0.107},{"k":16,"t":0.43,"v":-0.105},{"k":16,"t":0.44,"v":-0.1},{"k":16,"t":0.45,"v":-0.105},{"k":16,"t":0.46,"v":-0.102},{"k":16,"t":0.47,"v":-0.105},{"k":16,"t":0.48,"v":-0.1},{"k":16,"t":0.49,"v":-0.105},{"k":16,"t":0.5,"v":-0.097},
    {"k":16,"t":0.51,"v":-0.102},{"k":16,"t":0.52,"v":-0.097},{"k":16,"t":0.53,"v":-0.105},{"k":16,"t":0.54,"v":-0.099},{"k":16,"t":0.55,"v":-0.096},{"k":16,"t":0.56,"v":-0.101},{"k":16,"t":0.57,"v":-0.097},{"k":16,"t":0.58,"v":-0.103},{"k":16,"t":0.59,"v":-0.096},{"k":16,"t":0.599,"v":-0.099},
    {"k":16,"t":0.602,"v":-0.109},{"k":16,"t":0.605,"v":-0.097},{"k":16,"t":0.61,"v":-0.073},{"k":16,"t":0.615,"v":-0.063},{"k":16,"t":0.62,"v":-0.051},{"k":16,"t":0.63,"v":-0.047},{"k":16,"t":0.64,"v":-0.037},{"k":16,"t":0.65,"v":-0.043},{"k":16,"t":0.66,"v":-0.037},{"k":16,"t":0.67,"v":-0.041},{"k":16,"t":0.68,"v":-0.033},{"k":16,"t":0.69,"v":-0.039},{"k":16,"t":0.7,"v":-0.042},

    {"k":17,"t":0,"v":-0.012},{"k":17,"t":0.005,"v":0.001},{"k":17,"t":0.01,"v":-0.013},{"k":17,"t":0.015,"v":-0.002},{"k":17,"t":0.02,"v":-0.011},{"k":17,"t":0.025,"v":0.003},{"k":17,"t":0.03,"v":-0.014},{"k":17,"t":0.035,"v":-0.001},{"k":17,"t":0.038,"v":0.002},{"k":17,"t":0.04,"v":-0.032},{"k":17,"t":0.045,"v":-0.04},{"k":17,"t":0.05,"v":-0.03},{"k":17,"t":0.052,"v":-0.01},{"k":17,"t":0.055,"v":-0.002},{"k":17,"t":0.06,"v":-0.015},{"k":17,"t":0.065,"v":-0.011},{"k":17,"t":0.07,"v":0.001},{"k":17,"t":0.075,"v":-0.013},{"k":17,"t":0.08,"v":-0.003},{"k":17,"t":0.085,"v":-0.012},{"k":17,"t":0.09,"v":0},{"k":17,"t":0.095,"v":-0.01},{"k":17,"t":0.0995,"v":-0.005},
    {"k":17,"t":0.1,"v":-0.22},{"k":17,"t":0.102,"v":-0.195},{"k":17,"t":0.106,"v":-0.175},
    {"k":17,"t":0.11,"v":-0.161},{"k":17,"t":0.12,"v":-0.163},{"k":17,"t":0.13,"v":-0.153},{"k":17,"t":0.14,"v":-0.151},{"k":17,"t":0.15,"v":-0.153},{"k":17,"t":0.16,"v":-0.149},{"k":17,"t":0.17,"v":-0.143},{"k":17,"t":0.18,"v":-0.147},{"k":17,"t":0.19,"v":-0.148},{"k":17,"t":0.2,"v":-0.139},
    {"k":17,"t":0.21,"v":-0.141},{"k":17,"t":0.22,"v":-0.143},{"k":17,"t":0.23,"v":-0.135},{"k":17,"t":0.24,"v":-0.141},{"k":17,"t":0.25,"v":-0.137},{"k":17,"t":0.26,"v":-0.141},{"k":17,"t":0.27,"v":-0.135},{"k":17,"t":0.28,"v":-0.133},{"k":17,"t":0.29,"v":-0.139},{"k":17,"t":0.3,"v":-0.136},
    {"k":17,"t":0.31,"v":-0.131},{"k":17,"t":0.32,"v":-0.136},{"k":17,"t":0.33,"v":-0.134},{"k":17,"t":0.34,"v":-0.137},{"k":17,"t":0.35,"v":-0.13},{"k":17,"t":0.36,"v":-0.132},{"k":17,"t":0.37,"v":-0.135},{"k":17,"t":0.38,"v":-0.13},{"k":17,"t":0.39,"v":-0.132},{"k":17,"t":0.4,"v":-0.127},
    {"k":17,"t":0.41,"v":-0.132},{"k":17,"t":0.42,"v":-0.126},{"k":17,"t":0.43,"v":-0.133},{"k":17,"t":0.44,"v":-0.128},{"k":17,"t":0.45,"v":-0.131},{"k":17,"t":0.46,"v":-0.123},{"k":17,"t":0.47,"v":-0.128},{"k":17,"t":0.48,"v":-0.131},{"k":17,"t":0.49,"v":-0.124},{"k":17,"t":0.5,"v":-0.127},
    {"k":17,"t":0.51,"v":-0.121},{"k":17,"t":0.52,"v":-0.127},{"k":17,"t":0.53,"v":-0.124},{"k":17,"t":0.54,"v":-0.12},{"k":17,"t":0.55,"v":-0.127},{"k":17,"t":0.56,"v":-0.119},{"k":17,"t":0.57,"v":-0.121},{"k":17,"t":0.58,"v":-0.115},{"k":17,"t":0.59,"v":-0.121},{"k":17,"t":0.599,"v":-0.118},
    {"k":17,"t":0.602,"v":-0.141},{"k":17,"t":0.605,"v":-0.116},{"k":17,"t":0.61,"v":-0.095},{"k":17,"t":0.615,"v":-0.073},{"k":17,"t":0.62,"v":-0.07},{"k":17,"t":0.63,"v":-0.054},{"k":17,"t":0.64,"v":-0.052},{"k":17,"t":0.65,"v":-0.042},{"k":17,"t":0.66,"v":-0.046},{"k":17,"t":0.67,"v":-0.049},{"k":17,"t":0.68,"v":-0.043},{"k":17,"t":0.69,"v":-0.047},{"k":17,"t":0.7,"v":-0.041}
  ]},
  "layer": [
    {
      "mark": {"type": "line", "color": "black", "strokeWidth": 1.5, "clip": true},
      "encoding": {
        "x": {
          "field": "t",
          "type": "quantitative",
          "title": "t [s]",
          "scale": {"domain": [0, 0.7], "nice": false, "zero": false},
          "axis": {
            "values": [0.1, 0.6],
            "labelExpr": "'' + datum.value",
            "grid": false,
            "domainColor": "#595959",
            "tickColor": "#595959",
            "tickSize": -6,
            "labelPadding": 19,
            "labelFontSize": 22,
            "labelColor": "#262626",
            "labelFont": "DejaVu Sans",
            "titleFont": "DejaVu Sans",
            "titleFontSize": 24,
            "titleFontWeight": "normal",
            "titleColor": "#262626",
            "titleX": 301.5,
            "titleY": 55,
            "titleBaseline": "middle",
            "titleAlign": "center"
          }
        },
        "y": {
          "field": "v",
          "type": "quantitative",
          "title": "I [nA]",
          "scale": {"domain": [-0.3, 0.612], "nice": false, "zero": false},
          "axis": {
            "values": [-0.2, 0, 0.2, 0.4, 0.6],
            "labelExpr": "'' + datum.value",
            "grid": false,
            "domainColor": "#595959",
            "tickColor": "#595959",
            "tickSize": -6,
            "labelPadding": 24,
            "labelFontSize": 22,
            "labelColor": "#262626",
            "labelFont": "DejaVu Sans",
            "titleFont": "DejaVu Sans",
            "titleFontSize": 24,
            "titleFontWeight": "normal",
            "titleColor": "#262626",
            "titleAngle": 270,
            "titleX": -74,
            "titleY": 234.5,
            "titleBaseline": "middle",
            "titleAlign": "center"
          }
        },
        "detail": {"field": "k", "type": "nominal"}
      }
    },
    {
      "data": {"values": [{"label": "25\u00a0°C\u00a0\u00a0Activation"}]},
      "mark": {"type": "text", "align": "right", "baseline": "alphabetic", "fontSize": 19, "font": "DejaVu Sans", "color": "black"},
      "encoding": {
        "text": {"field": "label", "type": "nominal"},
        "x": {"datum": 0.699, "type": "quantitative", "title": "t [s]"},
        "y": {
          "datum": 0.604,
          "type": "quantitative",
          "axis": {
            "orient": "right",
            "title": "BBP Channelpedia ID 31509 rep 1",
            "labels": false,
            "ticks": false,
            "domain": false,
            "grid": false,
            "titleFont": "DejaVu Sans",
            "titleFontSize": 14,
            "titleFontWeight": "normal",
            "titleColor": "black",
            "titleAngle": 270,
            "titleX": 12,
            "titleY": 234.5,
            "titleBaseline": "middle",
            "titleAlign": "center"
          }
        }
      }
    }
  ],
  "resolve": {"axis": {"y": "independent"}}
}
